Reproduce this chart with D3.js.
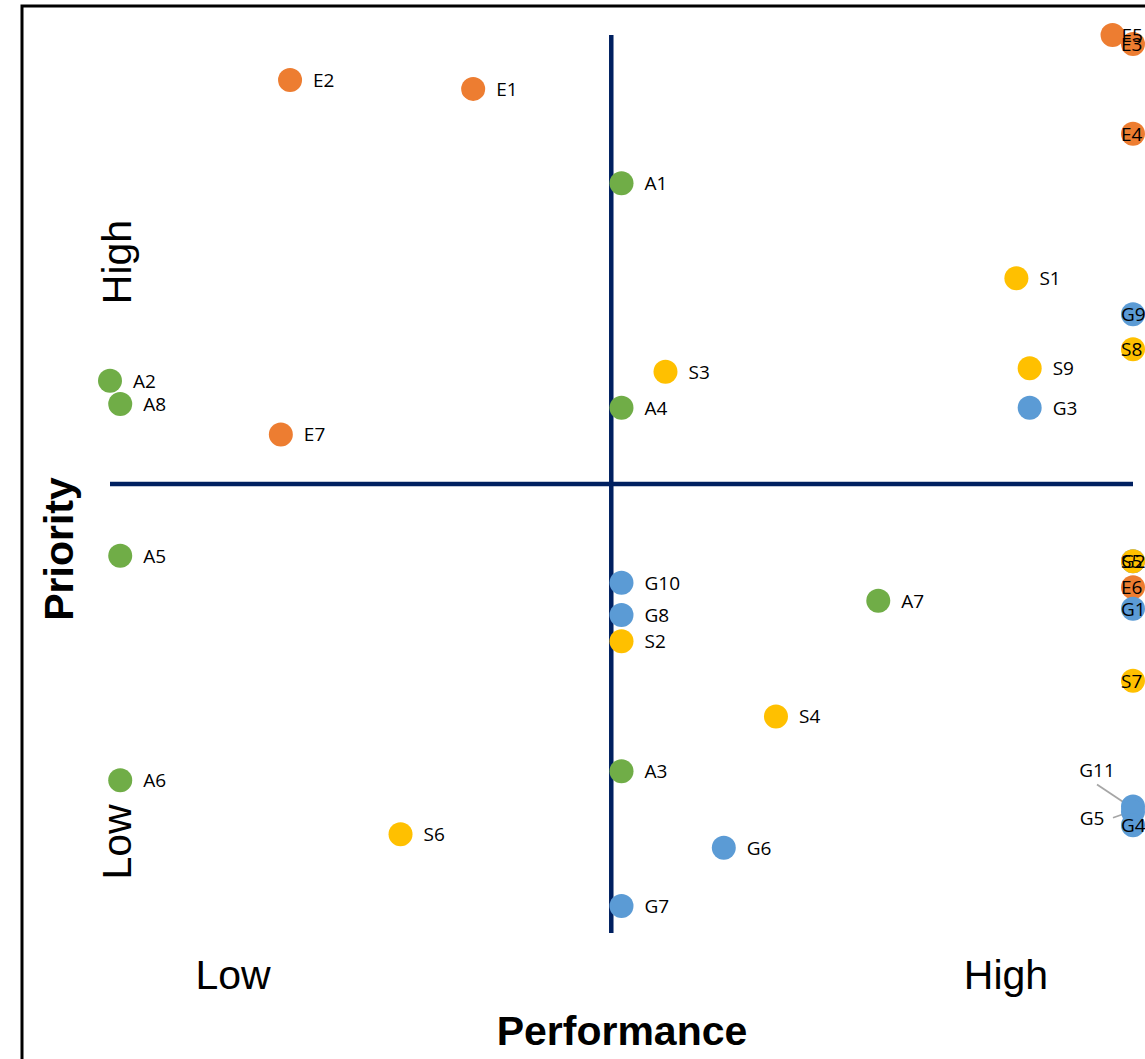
<!DOCTYPE html>
<html>
<head>
<meta charset="utf-8">
<script src="https://cdn.jsdelivr.net/npm/d3@7"></script>
<style>
  body { margin: 0; background: #fff; }
  svg { display: block; }
</style>
</head>
<body>
<svg id="chart" width="1145" height="1059"></svg>
<script>
// point names, group (colour) and position on a 0-10 scale
var names  = ["E2","E1","E5","E3","E4","A1","S1","G9","S8","S9","S3","A2","A8","A4","G3","E7",
              "A5","G2","S5","E6","G1","G10","G8","S2","A7","S7","S4","A3","A6","G11","G5","G4","S6","G6","G7"];
var groups = ["E","E","E","E","E","A","S","G","S","S","S","A","A","A","G","E",
              "A","G","S","E","G","G","G","S","A","S","S","A","A","G","G","G","S","G","G"];
var perf   = [1.76,3.55,9.80,10,10,5.00,8.86,10,10,8.99,5.43,0,0.10,5.00,8.99,1.67,
              0.10,10,10,10,10,5.00,5.00,5.00,7.51,10,6.51,5.00,0.10,10,10,10,2.84,6.00,5.00];
var prio   = [9.50,9.40,10.0,9.90,8.90,8.35,7.29,6.89,6.50,6.29,6.25,6.15,5.89,5.85,5.85,5.55,
              4.20,4.14,4.14,3.85,3.61,3.90,3.54,3.25,3.70,2.81,2.41,1.80,1.70,1.41,1.35,1.20,1.10,0.95,0.30];

// labels that were moved off their point with a leader line
var calloutNames = ["G11","G5"];

var groupColors = {E: "#ED7D31", A: "#70AD47", S: "#FFC000", G: "#5B9BD5"};
var perfSplit = 4.9, prioSplit = 5;

var svg = d3.select("#chart");

var x = d3.scaleLinear().domain([0, 10]).range([110, 1133]);
var y = d3.scaleLinear().domain([0, 10]).range([933, 35]);

var points = names.map(function (n, i) {
    return {name: n, group: groups[i], perf: perf[i], prio: prio[i]};
});

// outer frame (cut off at right and bottom)
svg.append("rect")
    .attr("x", 22).attr("y", 6)
    .attr("width", 1200).attr("height", 1200)
    .attr("fill", "none")
    .attr("stroke", "#000")
    .attr("stroke-width", 3);

// quadrant lines
svg.append("line")
    .attr("x1", x(perfSplit)).attr("x2", x(perfSplit))
    .attr("y1", y(10)).attr("y2", y(0))
    .attr("stroke", "#002060").attr("stroke-width", 4.5);

svg.append("line")
    .attr("x1", x(0)).attr("x2", x(10))
    .attr("y1", y(prioSplit)).attr("y2", y(prioSplit))
    .attr("stroke", "#002060").attr("stroke-width", 4.5);

// leader lines
var callouts = points.filter(function (d) { return calloutNames.indexOf(d.name) >= 0; });
var calloutOffset = {G11: [-36, -36], G5: [-41, 6]};

svg.selectAll(".leader")
    .data(callouts)
    .enter().append("line")
    .attr("class", "leader")
    .attr("x1", function (d) { return x(d.perf) + calloutOffset[d.name][0] + (d.name === "G11" ? 0 : 21); })
    .attr("y1", function (d) { return y(d.prio) + calloutOffset[d.name][1] + (d.name === "G11" ? 14 : 0); })
    .attr("x2", function (d) { return x(d.perf) - 3; })
    .attr("y2", function (d) { return y(d.prio); })
    .attr("stroke", "#A6A6A6").attr("stroke-width", 1.8);

// dots
svg.selectAll(".dot")
    .data(points)
    .enter().append("circle")
    .attr("class", "dot")
    .attr("cx", function (d) { return x(d.perf); })
    .attr("cy", function (d) { return y(d.prio); })
    .attr("r", 12)
    .attr("fill", function (d) { return groupColors[d.group]; });

// point labels
svg.selectAll(".lbl")
    .data(points)
    .enter().append("text")
    .attr("class", "lbl")
    .attr("x", function (d) {
        if (calloutNames.indexOf(d.name) >= 0) return x(d.perf) + calloutOffset[d.name][0];
        if (d.perf >= 10) return x(d.perf) - 12;
        if (d.perf > 9.5) return x(d.perf) + 9;
        return x(d.perf) + 23;
    })
    .attr("y", function (d) {
        if (calloutNames.indexOf(d.name) >= 0) return y(d.prio) + calloutOffset[d.name][1];
        return y(d.prio);
    })
    .attr("text-anchor", function (d) { return calloutNames.indexOf(d.name) >= 0 ? "middle" : "start"; })
    .attr("dy", "0.36em")
    .style("font-family", "'Open Sans', sans-serif")
    .style("font-size", "19px")
    .attr("fill", "#000")
    .text(function (d) { return d.name; });

// axis words
var font = "'Liberation Sans', Arial, sans-serif";

svg.append("text")
    .attr("x", 233).attr("y", 989)
    .attr("text-anchor", "middle")
    .style("font-family", font).style("font-size", "41px")
    .text("Low");

svg.append("text")
    .attr("x", 1006).attr("y", 989)
    .attr("text-anchor", "middle")
    .style("font-family", font).style("font-size", "41px")
    .text("High");

svg.append("text")
    .attr("x", 622).attr("y", 1045)
    .attr("text-anchor", "middle")
    .style("font-family", font).style("font-size", "41px").style("font-weight", "bold")
    .text("Performance");

svg.append("text")
    .attr("transform", "translate(131,262) rotate(-90)")
    .attr("text-anchor", "middle")
    .style("font-family", font).style("font-size", "41px")
    .text("High");

svg.append("text")
    .attr("transform", "translate(131,842) rotate(-90)")
    .attr("text-anchor", "middle")
    .style("font-family", font).style("font-size", "41px")
    .text("Low");

svg.append("text")
    .attr("transform", "translate(73,549) rotate(-90)")
    .attr("text-anchor", "middle")
    .style("font-family", font).style("font-size", "41px").style("font-weight", "bold")
    .text("Priority");
</script>
</body>
</html>
